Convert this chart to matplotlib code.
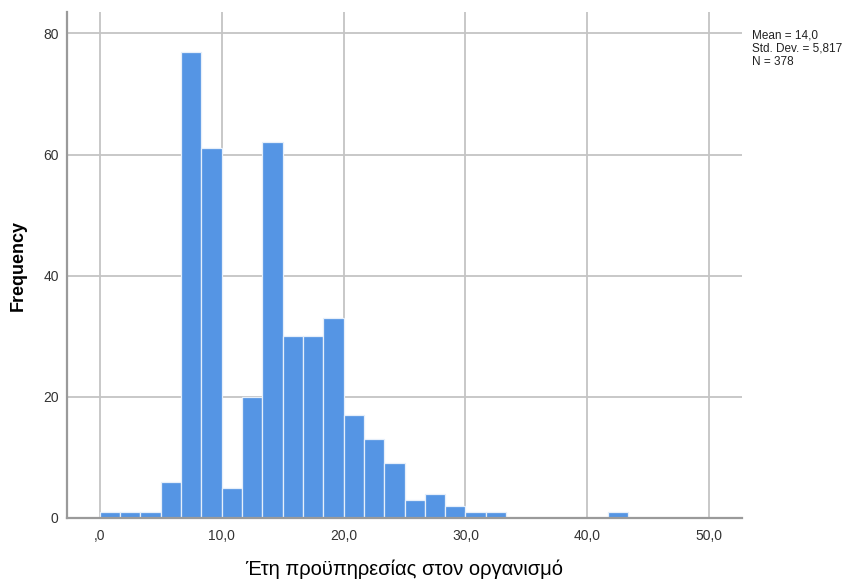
# Ιστόγραμμα: έτη προϋπηρεσίας στον οργανισμό
import matplotlib.pyplot as plt
import numpy as np

# --- δεδομένα ---
bin_width = 5 / 3
counts = [1, 1, 1, 6, 77, 61, 5, 20, 62, 30, 30, 33, 17, 13, 9, 3, 4, 2, 1, 1,
          0, 0, 0, 0, 0, 1]
x_ticks = [0, 10, 20, 30, 40, 50]
y_ticks = [0, 20, 40, 60, 80]
stats_text = "Mean = 14,0\nStd. Dev. = 5,817\nN = 378"

edges = np.arange(len(counts)) * bin_width

plt.rcParams["font.family"] = ["Liberation Sans", "DejaVu Sans"]

fig = plt.figure(figsize=(8.52, 5.79), dpi=100)
ax = fig.add_axes([0.0786, 0.1054, 0.7924, 0.8736])

grid_col = "#c4c4c4"
for v in x_ticks:
    ax.axvline(v, color=grid_col, linewidth=1.3, zorder=0)
for v in y_ticks[1:]:
    ax.axhline(v, color=grid_col, linewidth=1.3, zorder=0)

ax.bar(edges, counts, width=bin_width, align="edge", color="#5595e4",
       edgecolor="#e6effa", linewidth=0.9, zorder=2)

ax.set_xlim(-2.7, 52.7)
ax.set_ylim(0, 83.5)
ax.set_xticks(x_ticks)
# SPSS-style labels: ",0", "10,0", ...
ax.set_xticklabels([f"{v:.1f}".replace(".", ",").lstrip("0") if v == 0
                    else f"{v:.1f}".replace(".", ",") for v in x_ticks])
ax.set_yticks(y_ticks)
ax.set_yticklabels([str(v) for v in y_ticks])
ax.tick_params(axis="both", labelsize=10, labelcolor="#333333", length=0)
ax.tick_params(axis="x", pad=8)
ax.tick_params(axis="y", pad=6)

for s in ["top", "right"]:
    ax.spines[s].set_visible(False)
for s in ["left", "bottom"]:
    ax.spines[s].set_color("#9a9a9a")
    ax.spines[s].set_linewidth(1.6)

ax.set_ylabel("Frequency", fontsize=13, fontweight="bold", labelpad=12)
ax.set_xlabel("Έτη προϋπηρεσίας στον οργανισμό", fontsize=14.5, labelpad=12)

fig.text(752 / 852, 1 - 30 / 579, stats_text, fontsize=8.5, va="top",
         ha="left", linespacing=1.1, color="#222222")

fig.savefig("out.png", dpi=100)
